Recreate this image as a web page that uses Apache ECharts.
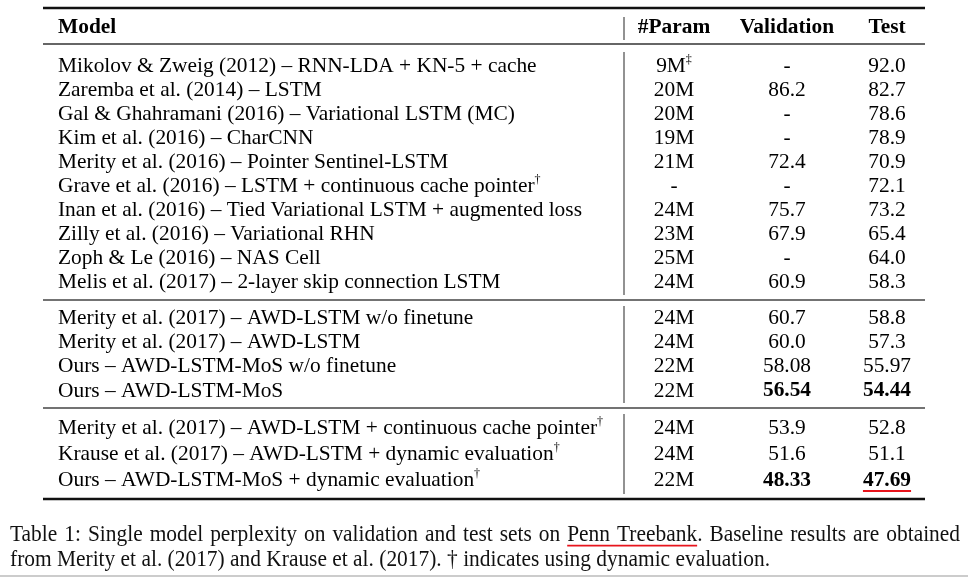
<!DOCTYPE html>
<html>
<head>
<meta charset="utf-8">
<script src="https://cdn.jsdelivr.net/npm/echarts@6/dist/echarts.min.js"></script>
<style>
html,body{margin:0;padding:0;background:#fff}
#main{width:968px;height:579px}
</style>
</head>
<body>
<div id="main"></div>
<script>
// 表头
const headers = ['Model', '#Param', 'Validation', 'Test'];
// 模型名
const models = [
    'Mikolov & Zweig (2012) – RNN-LDA + KN-5 + cache',
    'Zaremba et al. (2014) – LSTM',
    'Gal & Ghahramani (2016) – Variational LSTM (MC)',
    'Kim et al. (2016) – CharCNN',
    'Merity et al. (2016) – Pointer Sentinel-LSTM',
    'Grave et al. (2016) – LSTM + continuous cache pointer',
    'Inan et al. (2016) – Tied Variational LSTM + augmented loss',
    'Zilly et al. (2016) – Variational RHN',
    'Zoph & Le (2016) – NAS Cell',
    'Melis et al. (2017) – 2-layer skip connection LSTM',
    'Merity et al. (2017) – AWD-LSTM w/o finetune',
    'Merity et al. (2017) – AWD-LSTM',
    'Ours – AWD-LSTM-MoS w/o finetune',
    'Ours – AWD-LSTM-MoS',
    'Merity et al. (2017) – AWD-LSTM + continuous cache pointer',
    'Krause et al. (2017) – AWD-LSTM + dynamic evaluation',
    'Ours – AWD-LSTM-MoS + dynamic evaluation'
];
const modelMarks = ['', '', '', '', '', '†', '', '', '', '', '', '', '', '', '†', '†', '†'];
const paramCounts = ['9M', '20M', '20M', '19M', '21M', '-', '24M', '23M', '25M', '24M', '24M', '24M', '22M', '22M', '24M', '24M', '22M'];
const paramMarks = ['‡', '', '', '', '', '', '', '', '', '', '', '', '', '', '', '', ''];
const validation = ['-', '86.2', '-', '-', '72.4', '-', '75.7', '67.9', '-', '60.9', '60.7', '60.0', '58.08', '56.54', '53.9', '51.6', '48.33'];
const test = ['92.0', '82.7', '78.6', '78.9', '70.9', '72.1', '73.2', '65.4', '64.0', '58.3', '58.8', '57.3', '55.97', '54.44', '52.8', '51.1', '47.69'];
// 分组
const groups = [0, 0, 0, 0, 0, 0, 0, 0, 0, 0, 1, 1, 1, 1, 2, 2, 2];
const boldRows = [13, 16];
const underlineRow = 16;
// 标题
const captionLines = [
    'Table 1: Single model perplexity on validation and test sets on Penn Treebank. Baseline results are obtained',
    'from Merity et al. (2017) and Krause et al. (2017). † indicates using dynamic evaluation.'
];
const captionLink = ['Penn', 'Treebank'];

// 布局
const FONT = '"Liberation Serif", "DejaVu Serif", serif';
const FS = 21.4;
const colX = [58, 674, 787, 887];
const tableLeft = 43, tableRight = 925, sepX = 624;
const headerY = 27.5;
const groupTop = [66, 318, 428];
const groupStep = [24, 24.3, 26];
const rules = [[8, 2.6, '#111'], [44, 1.6, '#333'], [300, 1.6, '#444'], [408, 1.6, '#444'], [499, 2.6, '#111']];
const sepSegs = [[17, 40], [52, 295], [306, 403], [414, 494]];

function rowY(i) {
    let g = groups[i];
    let first = groups.indexOf(g);
    return groupTop[g] + (i - first) * groupStep[g];
}

const ctx = document.createElement('canvas').getContext('2d');
function textW(s, weight, size) {
    ctx.font = (weight || 'normal') + ' ' + (size || FS) + 'px ' + FONT;
    return ctx.measureText(s).width;
}

const richStyle = {
    n: {fontFamily: FONT, fontSize: FS, fill: '#000', lineHeight: 24},
    b: {fontFamily: FONT, fontSize: FS, fill: '#000', fontWeight: 'bold', lineHeight: 24},
    s: {fontFamily: FONT, fontSize: 12, fill: '#000', verticalAlign: 'top', lineHeight: 24}
};

function cell(p, str, mark, align, bold) {
    let t = '{' + (bold ? 'b' : 'n') + '|' + str + '}';
    if (mark) t += '{s|' + mark + '}';
    return {
        type: 'text',
        x: p[0], y: p[1],
        style: {text: t, rich: richStyle, align: align, verticalAlign: 'middle'}
    };
}

//表格行
function renderRow(params, api) {
    let i = params.dataIndex;
    let y = rowY(i);
    let bold = boldRows.indexOf(i) >= 0;
    let kids = [
        cell(api.coord([colX[0], y]), models[i], modelMarks[i], 'left', false),
        cell(api.coord([colX[1], y]), paramCounts[i], paramMarks[i], 'center', false),
        cell(api.coord([colX[2], y]), validation[i], '', 'center', bold),
        cell(api.coord([colX[3], y]), test[i], '', 'center', bold)
    ];
    if (i === underlineRow) {
        let w = textW(test[i], 'bold');
        let a = api.coord([colX[3] - w / 2, y + 11]);
        let b = api.coord([colX[3] + w / 2, y + 11]);
        kids.push({type: 'line', shape: {x1: a[0], y1: a[1], x2: b[0], y2: b[1]}, style: {stroke: '#e8141c', lineWidth: 2}});
    }
    return {type: 'group', children: kids};
}

function renderHeader(params, api) {
    let i = params.dataIndex;
    let p = api.coord([colX[i], headerY]);
    return {
        type: 'text', x: p[0], y: p[1],
        style: {text: headers[i], font: 'bold ' + FS + 'px ' + FONT, fill: '#000', align: i === 0 ? 'left' : 'center', verticalAlign: 'middle'}
    };
}

function renderRule(params, api) {
    let r = rules[params.dataIndex];
    let a = api.coord([tableLeft, r[0]]);
    let b = api.coord([tableRight, r[0]]);
    return {type: 'line', shape: {x1: a[0], y1: a[1], x2: b[0], y2: b[1]}, style: {stroke: r[2], lineWidth: r[1]}};
}

function renderSep(params, api) {
    let s = sepSegs[params.dataIndex];
    let a = api.coord([sepX, s[0]]);
    let b = api.coord([sepX, s[1]]);
    return {type: 'line', shape: {x1: a[0], y1: a[1], x2: b[0], y2: b[1]}, style: {stroke: '#777', lineWidth: 1.6}};
}

// 标题: 窄体 + 首行两端对齐
const CAP_FS = 22.5;
const capScale = 760 / textW(captionLines[1], 'normal', CAP_FS);
const capLeft = 10, capWidth = 950;
const capY = [534.7, 560];
function renderCaption(params, api) {
    let i = params.dataIndex;
    let words = captionLines[i].split(' ');
    let ws = words.map(w => textW(w, 'normal', CAP_FS) * capScale);
    let gap = textW(' ', 'normal', CAP_FS) * capScale;
    if (i === 0) {
        let sum = ws.reduce((a, b) => a + b, 0);
        gap = (capWidth - sum) / (words.length - 1);
    }
    let kids = [];
    let x = capLeft;
    let ulStart = null, ulEnd = null;
    for (let k = 0; k < words.length; k++) {
        let p = api.coord([x, capY[i]]);
        kids.push({
            type: 'text', x: p[0], y: p[1], scaleX: capScale,
            style: {text: words[k], font: CAP_FS + 'px ' + FONT, fill: '#111', align: 'left', verticalAlign: 'middle'}
        });
        let bare = words[k].replace(/[.,]$/, '');
        if (bare === captionLink[0]) ulStart = x;
        if (bare === captionLink[1] && ulStart !== null) ulEnd = x + textW(bare, 'normal', CAP_FS) * capScale;
        x += ws[k] + gap;
    }
    if (ulStart !== null && ulEnd !== null) {
        let a = api.coord([ulStart, capY[i] + 11]);
        let b = api.coord([ulEnd, capY[i] + 11]);
        kids.push({type: 'line', shape: {x1: a[0], y1: a[1], x2: b[0], y2: b[1]}, style: {stroke: '#e8141c', lineWidth: 1.8}});
    }
    return {type: 'group', children: kids};
}

const chart = echarts.init(document.getElementById('main'));
chart.setOption({
    animation: false,
    backgroundColor: '#fff',
    grid: {left: 0, right: 0, top: 0, bottom: 0},
    xAxis: {type: 'value', min: 0, max: 968, show: false},
    yAxis: {type: 'value', min: 0, max: 579, inverse: true, show: false},
    series: [
        {type: 'custom', clip: false, renderItem: renderRule, data: rules.map((r, i) => [i, r[0]])},
        {type: 'custom', clip: false, renderItem: renderSep, data: sepSegs.map((s, i) => [i, s[0]])},
        {type: 'custom', clip: false, renderItem: renderHeader, data: headers.map((h, i) => [i, headerY])},
        {type: 'custom', clip: false, renderItem: renderRow, data: models.map((m, i) => [i, i])},
        {type: 'custom', clip: false, renderItem: renderCaption, data: captionLines.map((c, i) => [i, i])}
    ],
    graphic: [
        {type: 'line', shape: {x1: 0, y1: 576, x2: 968, y2: 576}, style: {stroke: '#bbb', lineWidth: 1.5}}
    ]
});
</script>
</body>
</html>
